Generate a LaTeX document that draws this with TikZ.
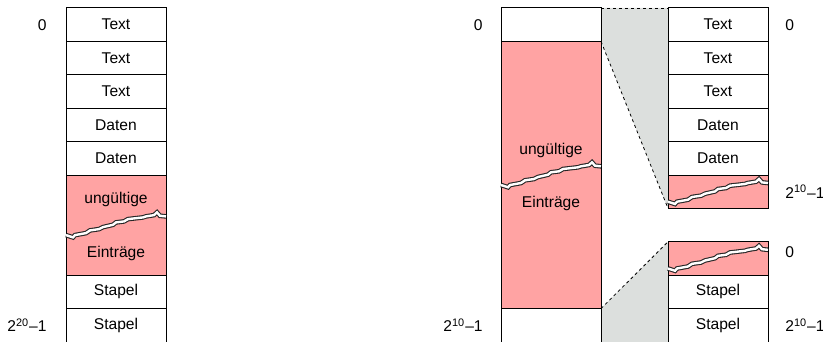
\documentclass[tikz,border=0pt]{standalone}
\usepackage{fontspec}
\setmainfont{Liberation Sans}
\usetikzlibrary{positioning,backgrounds}
\definecolor{invalid}{RGB}{255,163,163}
\definecolor{gapgrey}{RGB}{220,223,221}
\tikzset{
  cell/.style={draw, line width=0.5pt, minimum width=50pt, minimum height=16.7pt, inner sep=0pt, outer sep=0pt},
  bad/.style={cell, fill=invalid},
  lbl/.style={inner sep=0pt},
  brkline/.style={draw=black!85, line width=0.55pt, double=white, double distance=1.2pt},
  gapline/.style={line width=0.4pt, dash pattern=on 1.5pt off 1.5pt},
  brk/.pic={
    \draw[brkline] (-25pt,-5pt) -- (-21.5pt,-6.15pt) -- (-20.5pt,-5pt) -- (-15pt,-4pt)
      -- (-13pt,-2.65pt) -- (-8.5pt,-2pt) -- (-6.5pt,-1pt) -- (-1.5pt,0.15pt) -- (0pt,1.35pt)
      -- (4pt,1.85pt) -- (6pt,3pt) -- (13.5pt,3.85pt) -- (15pt,4.35pt) -- (19pt,5pt)
      -- (20.5pt,6.35pt) -- (22pt,4.65pt) -- (25pt,4.35pt);
  }
}
\begin{document}
\begin{tikzpicture}[font=\fontsize{7.8pt}{9pt}\selectfont]
  \useasboundingbox (0,0) rectangle (411.5pt,-171pt);
  % linke Spalte
  \node[cell, anchor=north west] (a1) at (33pt,-4pt) {Text};
  \node[cell, below=0pt of a1] (a2) {Text};
  \node[cell, below=0pt of a2] (a3) {Text};
  \node[cell, below=0pt of a3] (a4) {Daten};
  \node[cell, below=0pt of a4] (a5) {Daten};
  \node[bad, below=0pt of a5, minimum height=50.1pt] (a6) {};
  \node[cell, below=0pt of a6] (a9) {Stapel};
  \node[cell, below=0pt of a9] (a10) {Stapel};
  \pic at (a6.center) {brk};
  \node (a6top) at ([yshift=13pt]a6.center) {ungültige};
  \node (a6bot) at ([yshift=-14pt]a6.center) {Einträge};
  \node[lbl, left=9.5pt of a1] (a1lbl) {0};
  \node[lbl, left=9.5pt of a10] (a10lbl) {2\textsuperscript{20}–1};
  % mittlere Spalte
  \node[cell, anchor=north west] (b1) at (250.5pt,-4pt) {};
  \node[bad, below=0pt of b1, minimum height=133.6pt] (b2) {};
  \node[cell, below=0pt of b2] (b10) {};
  \pic at (b2.center) {brk};
  \node (b2top) at ([yshift=12.5pt]b2.center) {ungültige};
  \node (b2bot) at ([yshift=-14pt]b2.center) {Einträge};
  \node[lbl, left=9pt of b1] (b1lbl) {0};
  \node[lbl, left=9pt of b10] (b10lbl) {2\textsuperscript{10}–1};
  % rechte Spalte
  \node[cell, anchor=north west] (c1) at (334pt,-4pt) {Text};
  \node[cell, below=0pt of c1] (c2) {Text};
  \node[cell, below=0pt of c2] (c3) {Text};
  \node[cell, below=0pt of c3] (c4) {Daten};
  \node[cell, below=0pt of c4] (c5) {Daten};
  \node[bad, below=0pt of c5] (c6) {};
  \node[bad, below=16.7pt of c6] (c8) {};
  \node[cell, below=0pt of c8] (c9) {Stapel};
  \node[cell, below=0pt of c9] (c10) {Stapel};
  \pic at (c6.center) {brk};
  \pic at (c8.center) {brk};
  \node[lbl, right=8.5pt of c1] (c1lbl) {0};
  \node[lbl, right=8.5pt of c6] (c6lbl) {2\textsuperscript{10}–1};
  \node[lbl, right=8.5pt of c8, yshift=3pt] (c8lbl) {0};
  \node[lbl, right=8.5pt of c10] (c10lbl) {2\textsuperscript{10}–1};
  % Zwischenraum
  \begin{scope}[on background layer]
    \fill[gapgrey] (b1.north east) -- (c1.north west) -- (c6.south west) -- (b2.north east) -- cycle;
    \fill[gapgrey] (b2.south east) -- (c8.north west) -- (c10.south west) -- (b10.south east) -- cycle;
  \end{scope}
  \draw[gapline] (b1.north east) -- (c1.north west);
  \draw[gapline] (b2.north east) -- (c6.south west);
  \draw[gapline] (b2.south east) -- (c8.north west);
\end{tikzpicture}
\end{document}
